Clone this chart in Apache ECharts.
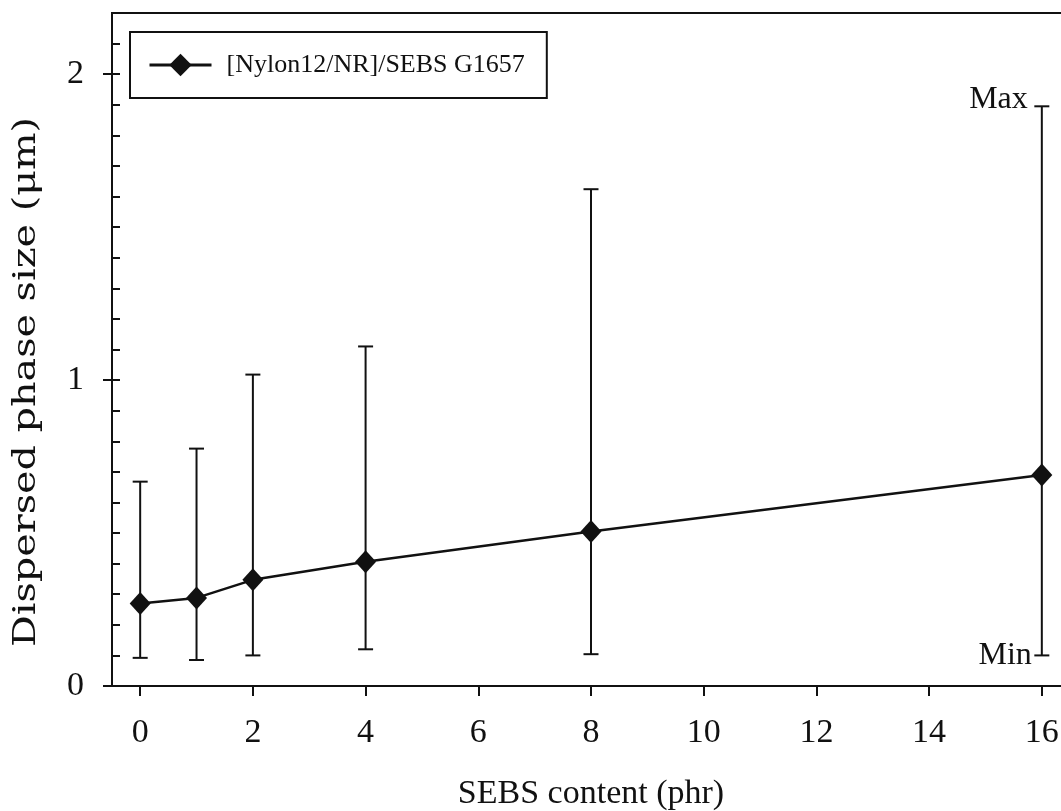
<!DOCTYPE html>
<html>
<head>
<meta charset="utf-8">
<script src="https://cdn.jsdelivr.net/npm/echarts@6/dist/echarts.min.js"></script>
<style>
html,body{margin:0;padding:0;background:#fff;}
#chart{width:1061px;height:811px;}
</style>
</head>
<body>
<div id="chart"></div>
<script>
// ---- data ----
const seriesName = '[Nylon12/NR]/SEBS G1657';
const sebsContent = [0, 1, 2, 4, 8, 16];
const meanSize = [0.27, 0.288, 0.347, 0.406, 0.505, 0.69];
const maxSize = [0.668, 0.776, 1.018, 1.11, 1.624, 1.895];
const minSize = [0.092, 0.085, 0.10, 0.12, 0.104, 0.10];
const xTickValues = [0, 2, 4, 6, 8, 10, 12, 14, 16];
const yLabelValues = [0, 1, 2];
const extremeLabels = ['Max', 'Min'];
const xTitle = 'SEBS content (phr)';
const yTitle = 'Dispersed phase size (\u03bcm)';

const serif = '"Liberation Serif", "Times New Roman", serif';
const ink = '#111';

const lineData = sebsContent.map((x, i) => [x, meanSize[i]]);
const barData = sebsContent.map((x, i) => [x, maxSize[i], minSize[i]]);
const lastIdx = sebsContent.length - 1;

const chart = echarts.init(document.getElementById('chart'), null, {renderer: 'canvas'});
chart.setOption({
  backgroundColor: '#fff',
  animation: false,
  grid: {left: 112, top: 13, right: -9, bottom: 125, outerBoundsMode: 'none', containLabel: false,
         show: true, borderColor: ink, borderWidth: 2, backgroundColor: 'transparent'},
  legend: {
    data: [seriesName],
    left: 130, top: 32,
    padding: [20, 22, 20, 18],
    borderColor: ink, borderWidth: 2,
    itemWidth: 62, itemHeight: 28,
    lineStyle: {width: 3},
    textStyle: {fontFamily: serif, fontSize: 26, color: ink, padding: [0, 0, 0, 10]}
  },
  xAxis: {
    type: 'value', min: -0.5, max: 16.5,
    name: xTitle, nameLocation: 'middle', nameGap: 91,
    nameTextStyle: {fontFamily: serif, fontSize: 34, color: ink},
    axisLine: {show: true, onZero: false, lineStyle: {color: ink, width: 2}},
    axisTick: {show: true, inside: false, length: 10, lineStyle: {color: ink, width: 2}, customValues: xTickValues},
    axisLabel: {fontFamily: serif, fontSize: 34, color: ink, margin: 30, customValues: xTickValues},
    splitLine: {show: false}
  },
  yAxis: [{
    type: 'value', min: 0, max: 2.2,
    axisLine: {show: true, onZero: false, lineStyle: {color: ink, width: 2}},
    axisTick: {show: true, inside: false, length: 9, lineStyle: {color: ink, width: 2}, customValues: yLabelValues},
    axisLabel: {fontFamily: serif, fontSize: 34, color: ink, margin: 28, customValues: yLabelValues},
    splitLine: {show: false}
  }, {
    type: 'value', min: 0, max: 2.2, interval: 0.1, position: 'left',
    axisLine: {show: false, onZero: false},
    axisTick: {show: true, inside: true, length: 8, lineStyle: {color: ink, width: 2}},
    axisLabel: {show: false},
    splitLine: {show: false}
  }],
  graphic: [{
    type: 'text', x: 27, y: 382, rotation: Math.PI / 2, scaleX: 1.28,
    style: {text: yTitle, font: '31px "DejaVu Serif", serif', fill: ink, textAlign: 'center', textVerticalAlign: 'middle', verticalAlign: 'middle'}
  }],
  series: [{
    type: 'custom',
    name: 'range',
    data: barData,
    encode: {x: 0, y: [1, 2]},
    z: 2,
    renderItem: function (params, api) {
      const x = api.value(0);
      const pHi = api.coord([x, api.value(1)]);
      const pLo = api.coord([x, api.value(2)]);
      const cap = 7.5;
      const st = {stroke: ink, lineWidth: 2};
      const children = [
        {type: 'line', shape: {x1: pHi[0], y1: pHi[1], x2: pLo[0], y2: pLo[1]}, style: st},
        {type: 'line', shape: {x1: pHi[0] - cap, y1: pHi[1], x2: pHi[0] + cap, y2: pHi[1]}, style: st},
        {type: 'line', shape: {x1: pLo[0] - cap, y1: pLo[1], x2: pLo[0] + cap, y2: pLo[1]}, style: st}
      ];
      if (params.dataIndex === lastIdx) {
        children.push({type: 'text', x: pHi[0] - 14, y: pHi[1] + 9,
          style: {text: extremeLabels[0], font: '32px ' + serif, fill: ink, textAlign: 'right', textVerticalAlign: 'bottom', verticalAlign: 'bottom'}});
        children.push({type: 'text', x: pLo[0] - 10, y: pLo[1],
          style: {text: extremeLabels[1], font: '32px ' + serif, fill: ink, textAlign: 'right', textVerticalAlign: 'middle', verticalAlign: 'middle'}});
      }
      return {type: 'group', children: children};
    }
  }, {
    type: 'line',
    name: seriesName,
    data: lineData,
    z: 3,
    symbol: 'diamond',
    symbolSize: [21, 23],
    lineStyle: {color: ink, width: 2.5},
    itemStyle: {color: ink},
    emphasis: {disabled: true}
  }]
});
</script>
</body>
</html>
